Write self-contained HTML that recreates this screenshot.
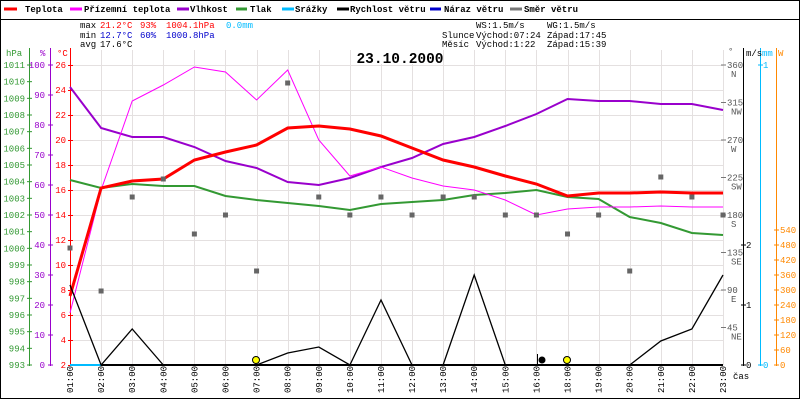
<!DOCTYPE html>
<html><head><meta charset="utf-8"><style>
body{margin:0;background:#fff}
svg{display:block}
text{font-family:"Liberation Mono",monospace;font-size:9px}
</style></head><body>
<svg width="800" height="400" viewBox="0 0 800 400" xmlns="http://www.w3.org/2000/svg">
<rect x="0" y="0" width="800" height="400" fill="#fff"/>
<rect x="0.5" y="0.5" width="799" height="398" fill="none" stroke="#000"/>
<line x1="0" y1="19.5" x2="800" y2="19.5" stroke="#000"/>
<g font-weight="bold">
<line x1="4" y1="9" x2="17" y2="9" stroke="#f00" stroke-width="3"/><text x="25" y="12">Teplota</text>
<line x1="70" y1="9" x2="82" y2="9" stroke="#f0f" stroke-width="3"/><text x="84" y="12">Přízemní teplota</text>
<line x1="177" y1="9" x2="189" y2="9" stroke="#90c" stroke-width="3"/><text x="190" y="12">Vlhkost</text>
<line x1="236" y1="9" x2="247" y2="9" stroke="#393" stroke-width="3"/><text x="250" y="12">Tlak</text>
<line x1="282" y1="9" x2="294" y2="9" stroke="#0bf" stroke-width="3"/><text x="295" y="12">Srážky</text>
<line x1="337" y1="9" x2="349" y2="9" stroke="#000" stroke-width="3"/><text x="350" y="12">Rychlost větru</text>
<line x1="430" y1="9" x2="441" y2="9" stroke="#00c" stroke-width="3"/><text x="444" y="12">Náraz větru</text>
<line x1="510" y1="9" x2="522" y2="9" stroke="#777" stroke-width="3"/><text x="524" y="12">Směr větru</text>
</g>
<text x="80" y="28">max</text><text x="100" y="28" fill="#f00">21.2°C</text><text x="140" y="28" fill="#f00">93%</text><text x="166" y="28" fill="#f00">1004.1hPa</text><text x="226" y="28" fill="#0bf">0.0mm</text>
<text x="80" y="38">min</text><text x="100" y="38" fill="#00c">12.7°C</text><text x="140" y="38" fill="#00c">60%</text><text x="166" y="38" fill="#00c">1000.8hPa</text>
<text x="80" y="47">avg</text><text x="100" y="47">17.6°C</text>
<text x="476" y="28">WS:1.5m/s</text><text x="547" y="28">WG:1.5m/s</text>
<text x="442" y="38">Slunce</text><text x="476" y="38">Východ:07:24</text><text x="547" y="38">Západ:17:45</text>
<text x="442" y="47">Měsíc</text><text x="476" y="47">Východ:1:22</text><text x="547" y="47">Západ:15:39</text>
<g stroke="#e4e0e0" stroke-width="1" id="grid"></g>
<rect x="363" y="49" width="75" height="15" fill="#fff"/>
<text x="400" y="63" text-anchor="middle" font-weight="bold" style="font-size:14.5px">23.10.2000</text>
<line x1="29.5" y1="48" x2="29.5" y2="366" stroke="#393"/>
<line x1="50.5" y1="48" x2="50.5" y2="366" stroke="#90c"/>
<line x1="70.5" y1="48" x2="70.5" y2="366" stroke="#f00"/>
<line x1="743.5" y1="48" x2="743.5" y2="366" stroke="#000"/>
<line x1="760.5" y1="48" x2="760.5" y2="366" stroke="#0bf"/>
<line x1="776.5" y1="48" x2="776.5" y2="366" stroke="#f80"/>
<text x="6" y="56" fill="#393">hPa</text><text x="40" y="56" fill="#90c">%</text><text x="57" y="56" fill="#f00">°C</text>
<text x="728" y="54" fill="#555">°</text><text x="746" y="56">m/s</text><text x="762" y="56" fill="#0bf">mm</text><text x="778" y="56" fill="#f80">W</text>
<g id="ticks"></g>
<g id="series" fill="none"></g>
<text x="733" y="379">čas</text>
</svg>
<script>
const NS="http://www.w3.org/2000/svg";
function el(p,t,a,txt){const e=document.createElementNS(NS,t);for(const k in a)e.setAttribute(k,a[k]);if(txt!==undefined)e.textContent=txt;p.appendChild(e);return e;}
const grid=document.getElementById('grid'),ticks=document.getElementById('ticks'),ser=document.getElementById('series');
const X=i=>70+i*(653/21);
const hours=["01","02","03","04","05","06","07","08","09","10","11","12","13","14","15","16","18","19","20","21","22","23"];
for(let i=0;i<22;i++){const x=Math.round(X(i))+.5;el(grid,'line',{x1:x,y1:50,x2:x,y2:365});
 el(ticks,'text',{x:0,y:0,transform:`translate(${X(i)+3},393) rotate(-90)`},hours[i]+":00");}
for(let c=2;c<=26;c+=2){const y=365-(c-2)*12.5;el(grid,'line',{x1:70,y1:y+.5,x2:723,y2:y+.5});
 el(ticks,'text',{x:66,y:y+3,'text-anchor':'end',fill:'#f00'},c);el(ticks,'line',{x1:68,y1:y+.5,x2:73,y2:y+.5,stroke:'#f00'});}
for(let h=993;h<=1011;h++){const y=365-(h-993)*16.667;el(ticks,'text',{x:25,y:y+3,'text-anchor':'end',fill:'#393'},h);el(ticks,'line',{x1:27,y1:y,x2:32,y2:y,stroke:'#393'});}
for(let p=0;p<=100;p+=10){const y=365-p*3;el(ticks,'text',{x:45,y:y+3,'text-anchor':'end',fill:'#90c'},p);el(ticks,'line',{x1:48,y1:y,x2:53,y2:y,stroke:'#90c'});}
const dirs={360:'N',315:'NW',270:'W',225:'SW',180:'S',135:'SE',90:'E',45:'NE'};
for(const d in dirs){const y=365-d*300/360;el(ticks,'text',{x:727,y:y+3,fill:'#555'},d);el(ticks,'text',{x:731,y:y+12,fill:'#555'},dirs[d]);el(ticks,'line',{x1:721,y1:y,x2:726,y2:y,stroke:'#777'});}
[[0,365],[1,305],[2,245]].forEach(([v,y])=>{el(ticks,'text',{x:746,y:y+3},v);el(ticks,'line',{x1:741,y1:y,x2:746,y2:y,stroke:'#000'});});
[[0,365],[1,65]].forEach(([v,y])=>{el(ticks,'text',{x:763,y:y+3,fill:'#0bf'},v);el(ticks,'line',{x1:758,y1:y,x2:763,y2:y,stroke:'#0bf'});});
for(let w=0;w<=540;w+=60){const y=365-w/4;el(ticks,'text',{x:780,y:y+3,fill:'#f80'},w);el(ticks,'line',{x1:774,y1:y,x2:779,y2:y,stroke:'#f80'});}
function line(ys,col,w){el(ser,'polyline',{points:ys.map((y,i)=>X(i).toFixed(1)+','+y).join(' '),stroke:col,'stroke-width':w});}
el(ser,'line',{x1:70,y1:365,x2:723,y2:365,stroke:'#0bf','stroke-width':2});
line([180,188,184,186,186,196,200,203,206,210,204,202,200,195,193,190,197,199,217,223,233,235],'#393',2);
line([87,128,137,137,147,161,168,182,185,178,167,158,144,137,126,114,99,101,101,104,104,110],'#90c',2);
line([313,190,101,85,67,72,100,70,140,176,167,178,186,190,200,215,209,207,207,206,207,207],'#f0f',1);
line([296,188,181,179,160,152,145,128,126,129,136,148,160,167,176,184,196,193,193,192,193,193],'#f00',3);
line([285,365,329,365,365,365,365,353,347,365,300,365,365,275,365,365,365,365,365,341,329,275],'#000',1.3);
el(ser,'line',{x1:101,y1:365,x2:723,y2:365,stroke:'#000','stroke-width':2});
[248,291,197,179,234,215,271,83,197,215,197,215,197,197,215,215,234,215,271,177,197,215].forEach((y,i)=>el(ser,'rect',{x:X(i)-2.5,y:y-2.5,width:5,height:5,fill:'#666'}));
el(ser,'circle',{cx:256,cy:360,r:3.5,fill:'#ff0',stroke:'#000'});
el(ser,'circle',{cx:567,cy:360,r:3.5,fill:'#ff0',stroke:'#000'});
el(ser,'circle',{cx:542,cy:360,r:3.5,fill:'#000'});
el(ser,'line',{x1:537.5,y1:354,x2:537.5,y2:365,stroke:'#000'});
</script>
</body></html>
